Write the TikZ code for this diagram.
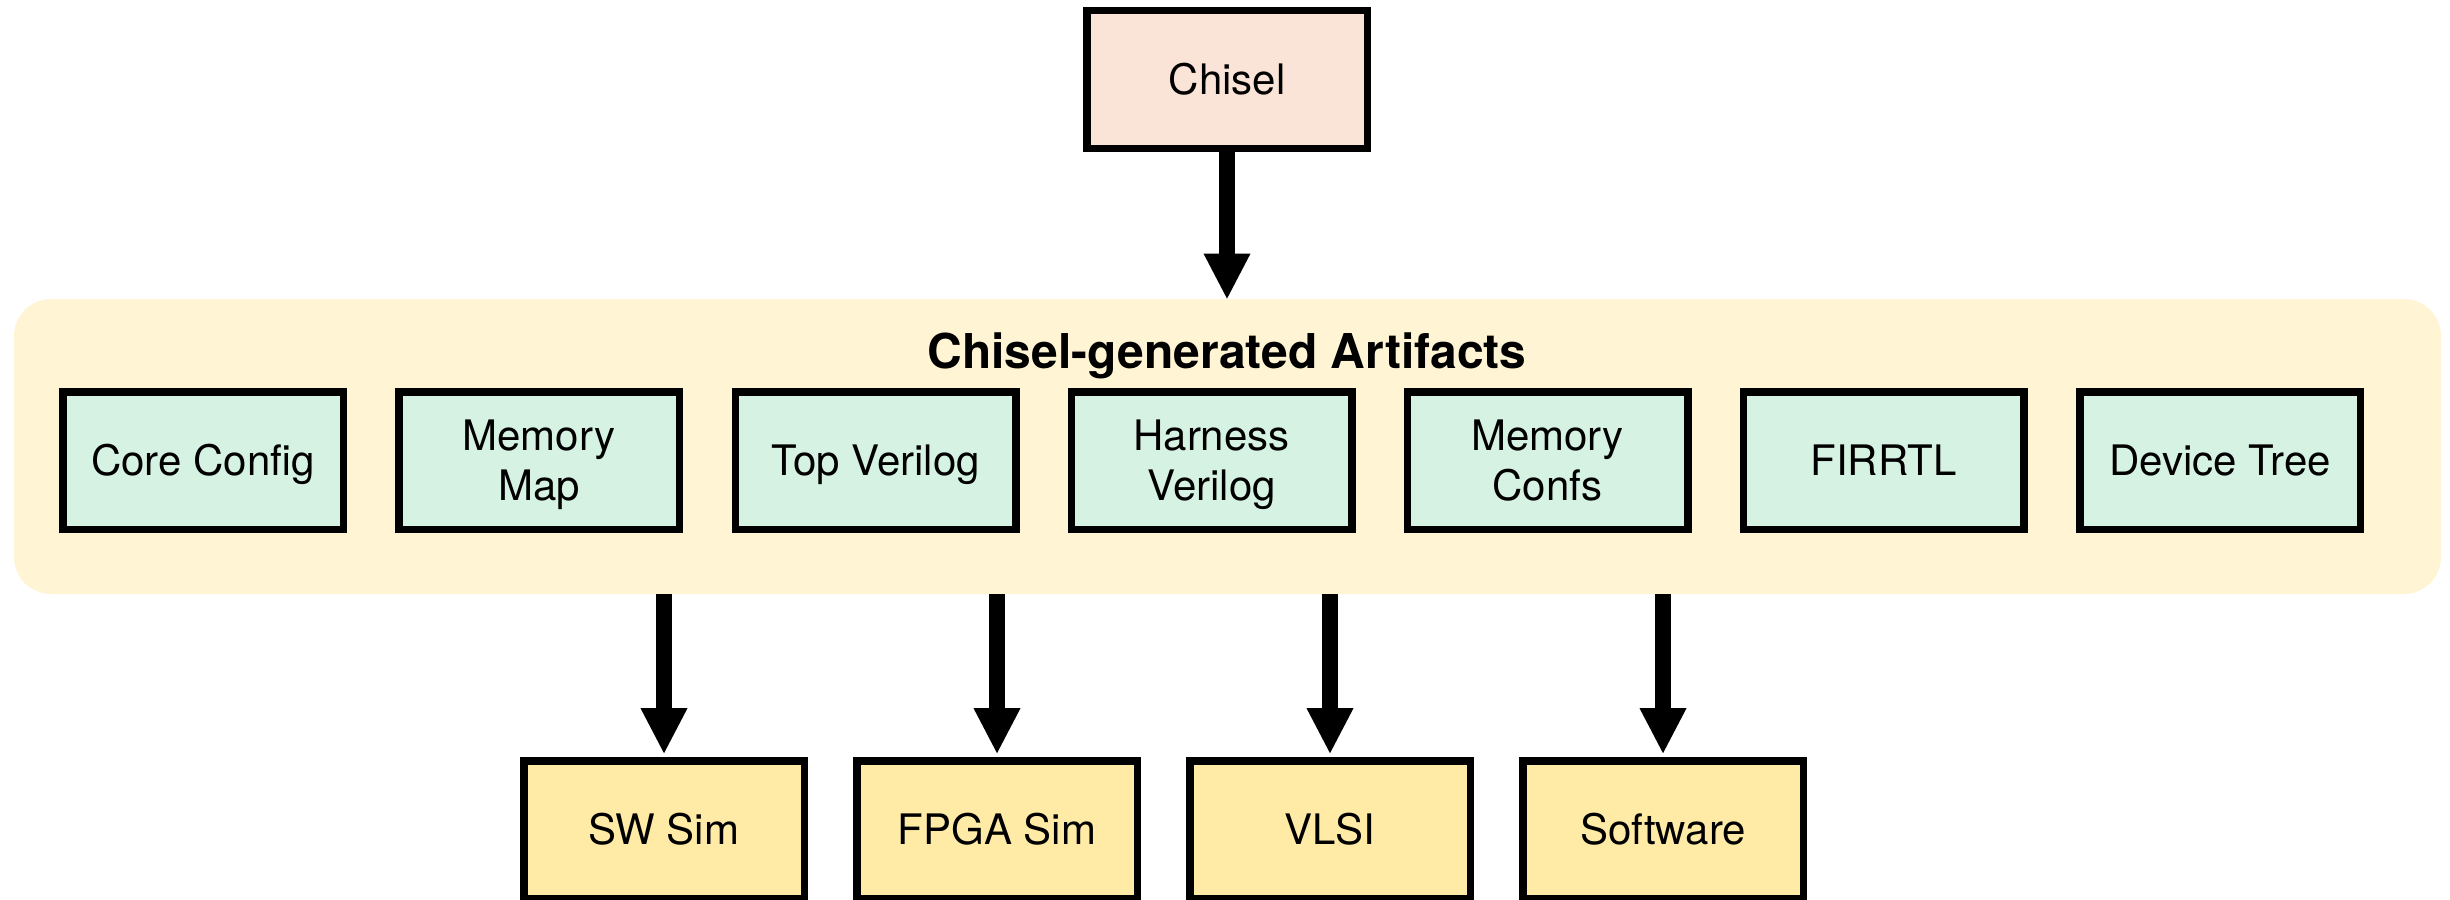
\documentclass[tikz,border=0pt]{standalone}
\usepackage{fontspec}
\setmainfont{TeX Gyre Heros}
\usetikzlibrary{arrows.meta}

\definecolor{chiselfill}{HTML}{F9E4D7}
\definecolor{artfill}{HTML}{D5F2E2}
\definecolor{groupfill}{HTML}{FFF5D4}
\definecolor{targetfill}{HTML}{FFEBA6}

\tikzset{
  box/.style={draw=black, line width=3.75pt, minimum width=140.25pt,
    minimum height=68.75pt, inner sep=0pt, align=center,
    font=\fontsize{21}{25}\selectfont, text height=15.1pt, text depth=0pt},
  twoline/.style={text height=40.1pt, text depth=0pt},
  srcbox/.style={box, fill=chiselfill},
  artbox/.style={box, fill=artfill},
  tgtbox/.style={box, fill=targetfill},
  group/.style={fill=groupfill, draw=none, rounded corners=18.5pt,
    minimum width=1213.5pt, minimum height=147.5pt, inner sep=0pt},
  conn/.style={line width=7.75pt,
    -{Triangle[width=23.5pt, length=22.5pt, line width=0pt]}}
}

\begin{document}
\begin{tikzpicture}[x=0.5pt, y=-0.5pt]
  \useasboundingbox (0,0) rectangle (2450,899);

  % artifact group
  \node[group] (art) at (1227.5,446.5) {};
  \node[anchor=base, font=\fontsize{24}{28}\selectfont\bfseries] (title) at (1227,368)
    {Chisel-generated Artifacts};

  % source
  \node[srcbox] (chisel) at (1227,79.5) {Chisel};

  % generated artifacts
  \node[artbox] (core)    at (203,460.5)  {Core Config};
  \node[artbox, twoline] (memmap) at (539,460.5) {Memory\\Map};
  \node[artbox] (topv)    at (875.5,460.5) {Top Verilog};
  \node[artbox, twoline] (harness) at (1211.5,460.5) {Harness\\Verilog};
  \node[artbox, twoline] (memconf) at (1547.5,460.5) {Memory\\Confs};
  \node[artbox] (firrtl)  at (1883.5,460.5) {FIRRTL};
  \node[artbox] (dts)     at (2220,460.5) {Device Tree};

  % flow targets
  \node[tgtbox] (swsim)   at (664,829.5)  {SW Sim};
  \node[tgtbox] (fpgasim) at (997,829.5)  {FPGA Sim};
  \node[tgtbox] (vlsi)    at (1330,829.5) {VLSI};
  \node[tgtbox] (sw)      at (1663,829.5) {Software};

  % connectors
  \draw[conn] (chisel.south) -- (chisel.south |- art.north);
  \foreach \t in {swsim, fpgasim, vlsi, sw}
    \draw[conn, shorten >=1.9pt] (\t.north |- art.south) -- (\t.north);
\end{tikzpicture}
\end{document}
